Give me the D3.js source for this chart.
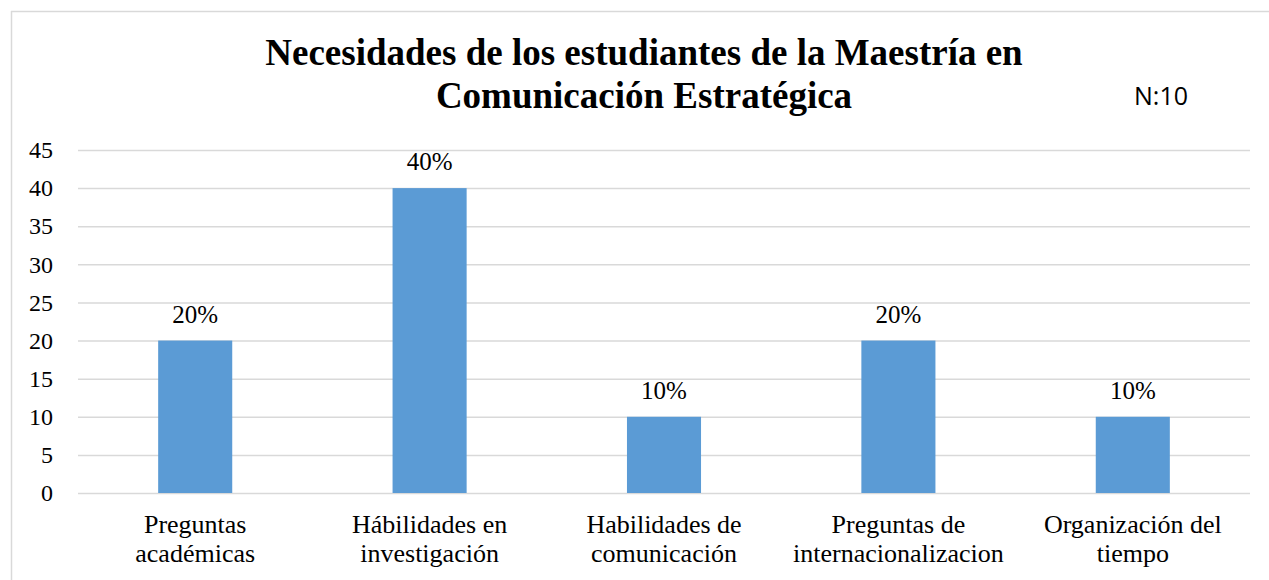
<!DOCTYPE html>
<html lang="es">
<head>
<meta charset="UTF-8">
<script src="https://d3js.org/d3.v7.min.js"></script>
<title>Necesidades de los estudiantes</title>
<style>
  html, body { margin: 0; padding: 0; background: #fff; }
  svg { display: block; }
</style>
</head>
<body>
<svg id="chart"></svg>
<script>
// data
const categories = [
  ['Preguntas', 'académicas'],
  ['Hábilidades en', 'investigación'],
  ['Habilidades de', 'comunicación'],
  ['Preguntas de', 'internacionalizacion'],
  ['Organización del', 'tiempo']
]
const values = [20, 40, 10, 20, 10]
const valueLabels = ['20%', '40%', '10%', '20%', '10%']
const yTicks = [0, 5, 10, 15, 20, 25, 30, 35, 40, 45]
const titleLines = ['Necesidades de los estudiantes de la Maestría en', 'Comunicación Estratégica']
const note = 'N:10'

let width = 1269
let height = 580
let plot = { left: 78, right: 1250, top: 150, bottom: 493 }
let serif = "'Liberation Serif', 'Times New Roman', serif"

let svg = d3.select('#chart').attr('width', width).attr('height', height)

// frame (top and left edges visible)
svg.append('line').attr('x1', 11).attr('x2', width).attr('y1', 11.5).attr('y2', 11.5)
    .attr('stroke', '#d9d9d9').attr('stroke-width', 1.5)
svg.append('line').attr('x1', 11.5).attr('x2', 11.5).attr('y1', 11).attr('y2', height)
    .attr('stroke', '#d9d9d9').attr('stroke-width', 1.5)

let xScale = d3.scaleBand()
    .domain(d3.range(categories.length))
    .range([plot.left, plot.right])
    .paddingInner(0.684)
    .paddingOuter(0.342)

let yScale = d3.scaleLinear()
    .domain([0, 45])
    .range([plot.bottom, plot.top])

// gridlines + y labels
let yAxis = d3.axisLeft(yScale)
    .tickValues(yTicks)
    .tickSize(-(plot.right - plot.left))
    .tickPadding(25)

let gy = svg.append('g')
    .attr('transform', 'translate(' + plot.left + ',0)')
    .call(yAxis)
    .attr('font-family', null)
    .attr('font-size', null)
gy.select('.domain').remove()
gy.selectAll('.tick line').attr('stroke', '#d9d9d9').attr('stroke-width', 1.5)
gy.selectAll('.tick text')
    .style('font-family', serif)
    .style('font-size', '24px')
    .attr('fill', '#000')

// bars
svg.selectAll('rect.bar')
    .data(values)
    .enter()
    .append('rect')
    .attr('class', 'bar')
    .attr('x', (d, i) => xScale(i))
    .attr('width', xScale.bandwidth())
    .attr('y', d => yScale(d))
    .attr('height', d => yScale(0) - yScale(d))
    .attr('fill', '#5b9bd5')

// value labels
svg.selectAll('text.val')
    .data(values)
    .enter()
    .append('text')
    .attr('class', 'val')
    .attr('x', (d, i) => xScale(i) + xScale.bandwidth() / 2)
    .attr('y', d => yScale(d) - 18)
    .attr('text-anchor', 'middle')
    .style('font-family', serif)
    .style('font-size', '25px')
    .attr('fill', '#000')
    .text((d, i) => valueLabels[i])

// category labels
let cat = svg.selectAll('text.cat')
    .data(categories)
    .enter()
    .append('text')
    .attr('class', 'cat')
    .attr('text-anchor', 'middle')
    .style('font-family', serif)
    .style('font-size', '26px')
    .attr('fill', '#000')
cat.each(function (lines, i) {
    let t = d3.select(this)
    lines.forEach((ln, j) => {
        t.append('tspan')
            .attr('x', xScale(i) + xScale.bandwidth() / 2)
            .attr('y', 533 + j * 29)
            .text(ln)
    })
})

// title
svg.append('text')
    .attr('text-anchor', 'middle')
    .style('font-family', serif)
    .style('font-size', '37px')
    .style('font-weight', 'bold')
    .attr('fill', '#000')
    .selectAll('tspan')
    .data(titleLines)
    .enter()
    .append('tspan')
    .attr('x', 644)
    .attr('y', (d, i) => 65 + i * 43)
    .text(d => d)

svg.append('text')
    .attr('x', 1134)
    .attr('y', 105)
    .style('font-family', "'Open Sans', 'Liberation Sans', sans-serif")
    .style('font-size', '25px')
    .attr('fill', '#000')
    .text(note)
</script>
</body>
</html>
